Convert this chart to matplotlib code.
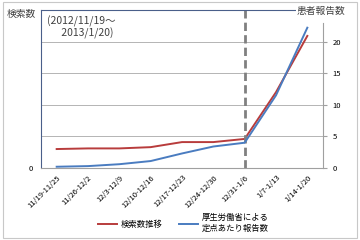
import numpy as np
import matplotlib.pyplot as plt
from matplotlib.patches import Rectangle

plt.rcParams['font.family'] = ['Noto Sans CJK JP', 'DejaVu Sans']

# weekly periods
weeks = ['11/19-11/25', '11/26-12/2', '12/3-12/9', '12/10-12/16', '12/17-12/23',
         '12/24-12/30', '12/31-1/6', '1/7-1/13', '1/14-1/20']
# search volume trend (left axis, relative units)
search_counts = [3.0, 3.1, 3.1, 3.3, 4.1, 4.1, 4.6, 12.0, 20.9]
# reports per sentinel site (right axis)
reports = [0.2, 0.3, 0.6, 1.1, 2.3, 3.4, 4.0, 11.5, 22.2]
right_ticks = [0, 5, 10, 15, 20]
marker_week = '12/31-1/6'

red = '#b83c3c'
blue = '#4a7cc0'

fig = plt.figure(figsize=(3.6, 2.4), dpi=100)
fig.patches.append(Rectangle((0.008, 0.01), 0.984, 0.98, transform=fig.transFigure,
                             fill=False, edgecolor='#c8c8c8', linewidth=0.8))

ax = fig.add_axes([41 / 360, 1 - 168 / 240, (323 - 41) / 360, (168 - 10) / 240])
ax2 = ax.twinx()

x = np.arange(len(weeks))
ax.plot(x, search_counts, color=red, linewidth=1.4, label='検索数推移')
ax2.plot(x, reports, color=blue, linewidth=1.4, label='厚生労働省による\n定点あたり報告数')

mi = weeks.index(marker_week)
ax.axvline(mi, color='#808080', linewidth=2.0, linestyle=(0, (3, 1.5)))

for a in (ax, ax2):
    a.set_ylim(0, 25)
    a.set_xlim(-0.5, len(weeks) - 0.5)

ax.set_yticks([0])
ax.set_yticklabels(['0'])
ax2.set_yticks(right_ticks)
ax2.tick_params(axis='y', labelsize=5.5, length=3, color='#a0a0a0', pad=4)
ax.tick_params(axis='y', labelsize=5.5, length=0, pad=6)
for t in right_ticks[1:]:
    ax.axhline(t, color='#b4b4b4', linewidth=0.7, zorder=0)

ax.set_xticks(x)
ax.set_xticklabels(weeks, rotation=45, ha='right', rotation_mode='anchor', fontsize=5.5)
ax.tick_params(axis='x', length=0, pad=4)

ax.spines['top'].set_color('#4a5f8a')
ax.spines['left'].set_color('#4a5f8a')
ax.spines['bottom'].set_color('#a0a0a0')
ax.spines['right'].set_visible(False)
ax2.spines['top'].set_visible(False)
ax2.spines['left'].set_visible(False)
ax2.spines['bottom'].set_visible(False)
ax2.spines['right'].set_color('#a0a0a0')
ax2.spines['right'].set_bounds(0, 23)

fig.text(7 / 360, 1 - 14 / 240, '検索数', fontsize=7, color='#404040', va='center')
fig.text(297 / 360, 1 - 11 / 240, '患者報告数', fontsize=7, color='#404040', va='center',
         bbox=dict(facecolor='white', edgecolor='none', pad=0.5))
ax.text(0.02, 0.965, '(2012/11/19～\n      2013/1/20)', transform=ax.transAxes,
        fontsize=7.5, color='#404040', va='top', ha='left', linespacing=1.05)

h1, l1 = ax.get_legend_handles_labels()
h2, l2 = ax2.get_legend_handles_labels()
fig.legend(h1 + h2, l1 + l2, loc='center', bbox_to_anchor=(0.51, 1 - 223 / 240), ncol=2,
           frameon=False, fontsize=6, handlelength=2.2, columnspacing=2.0, handletextpad=0.5)

fig.savefig('out.png', dpi=100)
